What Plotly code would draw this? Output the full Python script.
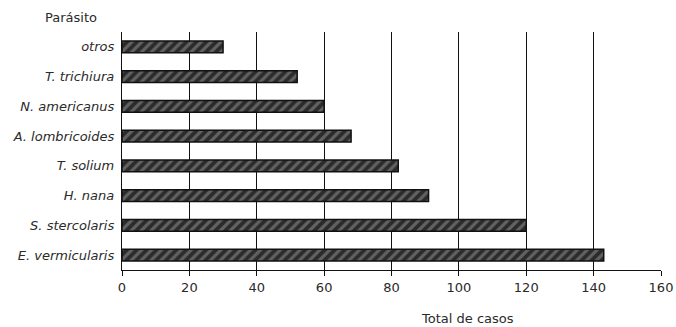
import plotly.graph_objects as go

parasitos = ["E. vermicularis", "S. stercolaris", "H. nana", "T. solium",
             "A. lombricoides", "N. americanus", "T. trichiura", "otros"]
casos = [143, 120, 91, 82, 68, 60, 52, 30]
x_ticks = [0, 20, 40, 60, 80, 100, 120, 140, 160]

W, H = 676, 327
L, R, T, B = 122, 15, 32, 57

fig = go.Figure(go.Bar(
    y=parasitos, x=casos, orientation="h",
    marker=dict(color="#2b2b2b",
                line=dict(color="#111", width=1.5),
                pattern=dict(shape="/", fgcolor="#9a9a9a", bgcolor="#2b2b2b",
                             size=7, solidity=0.45)),
    width=0.4,
))

font_family = "DejaVu Sans, Verdana, sans-serif"
fig.update_layout(
    width=W, height=H,
    margin=dict(l=L, r=R, t=T, b=B, autoexpand=False),
    paper_bgcolor="white", plot_bgcolor="white",
    font=dict(family=font_family, size=13, color="#2a2a2a"),
    showlegend=False,
    xaxis=dict(range=[0, 160], tickvals=x_ticks, showgrid=True, gridcolor="#111",
               gridwidth=1, zeroline=False, showline=True, linecolor="#111",
               linewidth=1, ticks="outside", ticklen=5, tickcolor="#111",
               tickfont=dict(size=13)),
    yaxis=dict(showgrid=False, showline=True, linecolor="#111", linewidth=1,
               ticks="", tickfont=dict(size=13, style="italic"), ticksuffix=" "),
)

pw = W - L - R
ph = H - T - B

def px_to_paper(x, y):
    return (x - L) / pw, (H - B - y) / ph

ax, ay = px_to_paper(71, 17)
bx, by = px_to_paper(467, 318)
fig.add_annotation(text="Parásito", xref="paper", yref="paper", x=ax, y=ay,
                   xanchor="center", yanchor="middle", showarrow=False,
                   font=dict(size=13))
fig.add_annotation(text="Total de casos", xref="paper", yref="paper", x=bx, y=by,
                   xanchor="center", yanchor="middle", showarrow=False,
                   font=dict(size=13))

fig.write_html(
    "out.html",
    config={"displayModeBar": False},
    post_script="document.body.style.margin='0';document.body.style.overflow='hidden';",
)
